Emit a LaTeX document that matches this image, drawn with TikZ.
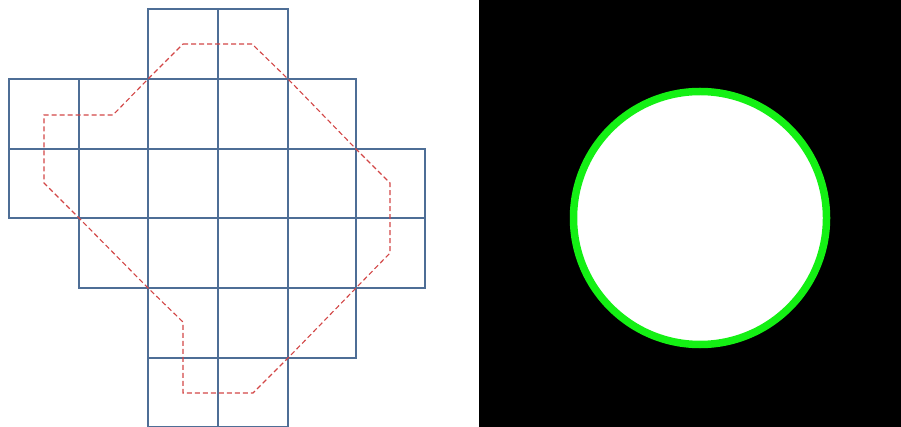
\documentclass[tikz,border=0pt]{standalone}
\begin{document}
\begin{tikzpicture}[x=1pt,y=-1pt,
  cellline/.style={draw={rgb,255:red,78;green,110;blue,150},line width=1.3pt},
  redpath/.style={draw={rgb,255:red,210;green,70;blue,70},line width=1.1pt,dash pattern=on 5pt off 3pt},
  ring/.style={draw={rgb,255:red,20;green,240;blue,20},line width=7.5pt,fill=white}]
\useasboundingbox (0,0) rectangle (901,427);
% right panel
\fill[black] (479,0) rectangle (901,427);
\path[ring] (700,218) circle (126.5);
% grid cells
\def\xs{{9,79,148,218,288,356,425}}
\def\ys{{9,79,149,218,288,358,427}}
\foreach \r/\a/\b in {0/2/3,1/0/4,2/0/5,3/1/5,4/2/4,5/2/3}{
  \foreach \c in {\a,...,\b}{
    \pgfmathsetmacro\xa{\xs[\c]}
    \pgfmathsetmacro\xb{\xs[\c+1]}
    \pgfmathsetmacro\ya{\ys[\r]}
    \pgfmathsetmacro\yb{\ys[\r+1]}
    \path[cellline] (\xa,\ya) rectangle (\xb,\yb);
  }
}
% dashed outline
\path[redpath] (183,44) -- (252,44) -- (288,79) -- (356,149) -- (390,183) -- (390,253)
  -- (356,288) -- (288,358) -- (253,393) -- (183,393) -- (183,322) -- (148,288)
  -- (79,218) -- (44,183) -- (44,115) -- (113,115) -- (148,79) -- cycle;
\end{tikzpicture}
\end{document}
